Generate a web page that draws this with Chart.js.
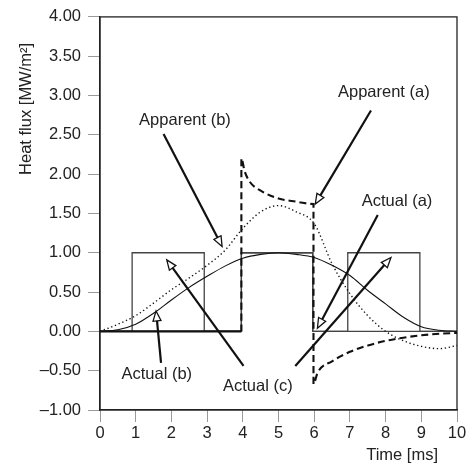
<!DOCTYPE html>
<html><head><meta charset="utf-8">
<script src="https://cdn.jsdelivr.net/npm/chart.js@4/dist/chart.umd.min.js"></script>
<style>html,body{margin:0;padding:0;background:#fff;}</style>
</head><body>
<canvas id="c" width="471" height="466"></canvas>
<script>
// ---- data (time in ms, heat flux in MW/m^2) ----
const xTickValues = [0,1,2,3,4,5,6,7,8,9,10];
const yTickValues = [-1,-0.5,0,0.5,1,1.5,2,2.5,3,3.5,4];

const actualA_t = [0, 3.96, 3.96, 5.96, 5.96, 10];
const actualA_q = [0, 0, 1, 1, 0, 0];

const actualC_t = [0, 0.9, 0.9, 2.92, 2.92, 3.96, 3.96, 5.96, 5.96, 6.94, 6.94, 8.96, 8.96, 10];
const actualC_q = [0, 0, 1, 1, 0, 0, 1, 1, 0, 0, 1, 1, 0, 0];

const actualB_t = [0,0.5,1,1.5,2,2.5,3,3.5,4,4.5,5,5.5,6,6.5,7,7.5,8,8.5,9,9.5,10];
const actualB_q = [0,0.02,0.09,0.23,0.40,0.56,0.70,0.83,0.93,0.98,1.00,0.98,0.94,0.84,0.71,0.52,0.35,0.18,0.06,0.015,0];

const apparentB_t = [0,0.5,1,1.5,2,2.5,3,3.5,4,4.5,5,5.5,6,6.5,7,7.5,8,8.5,9,9.5,10];
const apparentB_q = [0,0.09,0.20,0.36,0.53,0.68,0.84,1.03,1.31,1.52,1.60,1.52,1.37,0.86,0.48,0.20,0.0,-0.12,-0.19,-0.22,-0.18];

const apparentA_t = [0,3.96,3.96,4.05,4.2,4.5,5,5.5,5.98,5.98,6.1,6.5,7,7.5,8,8.5,9,9.5,10];
const apparentA_q = [0,0,2.2,2.04,1.9,1.79,1.69,1.65,1.62,-0.67,-0.52,-0.38,-0.26,-0.18,-0.12,-0.08,-0.05,-0.03,-0.02];

// annotation labels and arrows (data coordinates)
const labelText = ['Apparent (b)', 'Apparent (a)', 'Actual (a)', 'Actual (b)', 'Actual (c)'];
const labelX    = [2.38, 7.95, 8.32, 1.59, 4.42];
const labelY    = [2.68, 3.04, 1.65, -0.55, -0.70];
const arrowFrom = [[1.78,2.51],[7.59,2.81],[7.78,1.48],[1.71,-0.40],[4.02,-0.44],[5.47,-0.44]];
const arrowTo   = [[3.42,1.08],[6.03,1.62],[6.09,0.04],[1.57,0.26],[1.87,0.91],[8.15,0.94]];

const pts = (t, q) => t.map((v, i) => ({x: v, y: q[i]}));

const FONT = '"Liberation Sans", Arial, Helvetica, sans-serif';
Chart.defaults.font.family = FONT;
Chart.defaults.font.size = 16.5;
Chart.defaults.color = '#222';

const annot = {
  id: 'annot',
  beforeDatasetsDraw(chart) {
    const {ctx, chartArea: a} = chart;
    ctx.save();
    ctx.strokeStyle = '#222';
    ctx.lineWidth = 1.3;
    ctx.strokeRect(a.left, a.top, a.right - a.left, a.bottom - a.top);
    ctx.restore();
  },
  afterDatasetsDraw(chart) {
    const {ctx, chartArea: a, scales: {x, y}} = chart;
    ctx.save();
    // arrows
    for (let i = 0; i < arrowFrom.length; i++) {
      const x0 = x.getPixelForValue(arrowFrom[i][0]), y0 = y.getPixelForValue(arrowFrom[i][1]);
      const x1 = x.getPixelForValue(arrowTo[i][0]), y1 = y.getPixelForValue(arrowTo[i][1]);
      const dx = x1 - x0, dy = y1 - y0, L = Math.hypot(dx, dy);
      const ux = dx / L, uy = dy / L, px = -uy, py = ux;
      const hl = 10, hw = 4;
      const bx = x1 - ux * hl, by = y1 - uy * hl;
      ctx.beginPath();
      ctx.moveTo(x0, y0); ctx.lineTo(bx, by);
      ctx.strokeStyle = '#111'; ctx.lineWidth = 2.2; ctx.setLineDash([]);
      ctx.stroke();
      ctx.beginPath();
      ctx.moveTo(x1, y1);
      ctx.lineTo(bx + px * hw, by + py * hw);
      ctx.lineTo(bx - px * hw, by - py * hw);
      ctx.closePath();
      ctx.fillStyle = '#fff'; ctx.fill();
      ctx.lineWidth = 1.3; ctx.stroke();
    }
    // labels
    ctx.font = '16.5px ' + FONT;
    ctx.fillStyle = '#222';
    ctx.textAlign = 'center';
    ctx.textBaseline = 'middle';
    for (let i = 0; i < labelText.length; i++) {
      ctx.fillText(labelText[i], x.getPixelForValue(labelX[i]), y.getPixelForValue(labelY[i]));
    }
    // axis titles
    ctx.save();
    ctx.translate(a.left - 74, a.top + 92);
    ctx.rotate(-Math.PI / 2);
    ctx.fillText('Heat flux [MW/m\u00B2]', 0, 0);
    ctx.restore();
    ctx.textAlign = 'right';
    ctx.fillText('Time [ms]', a.right - 19, a.bottom + 45);
    ctx.restore();
  }
};

new Chart(document.getElementById('c'), {
  type: 'line',
  data: {
    datasets: [
      { label: 'Apparent (a)', data: pts(apparentA_t, apparentA_q), borderColor: '#111', borderWidth: 2.1,
        borderDash: [7, 4], cubicInterpolationMode: 'monotone', pointRadius: 0, fill: false,
        segment: { borderDash: c => (c.p0.parsed.y === 0 && c.p1.parsed.y === 0) ? [] : [7, 4] } },
      { label: 'Apparent (b)', data: pts(apparentB_t, apparentB_q), borderColor: '#111', borderWidth: 1.4,
        borderDash: [1.3, 2.7], cubicInterpolationMode: 'monotone', pointRadius: 0, fill: false },
      { label: 'Actual (b)', data: pts(actualB_t, actualB_q), borderColor: '#111', borderWidth: 1.1,
        cubicInterpolationMode: 'monotone', pointRadius: 0, fill: false },
      { label: 'Actual (a)', data: pts(actualA_t, actualA_q), borderColor: '#444', borderWidth: 1.3,
        tension: 0, pointRadius: 0, fill: false },
      { label: 'Actual (c)', data: pts(actualC_t, actualC_q), borderColor: '#444', borderWidth: 1.3,
        tension: 0, pointRadius: 0, fill: false }
    ]
  },
  options: {
    responsive: false,
    animation: false,
    devicePixelRatio: 1,
    layout: { padding: { top: 14, right: 14, left: 0, bottom: 0 } },
    plugins: { legend: { display: false }, tooltip: { enabled: false } },
    scales: {
      x: {
        type: 'linear', min: 0, max: 10,
        afterFit: s => { s.height = 56; },
        afterBuildTicks: s => { s.ticks = xTickValues.map(v => ({value: v})); },
        ticks: { padding: 2, color: '#222', callback: v => String(v), maxRotation: 0 },
        grid: { drawOnChartArea: false, drawTicks: true, tickLength: 12, color: '#999', lineWidth: 1 },
        border: { display: true, color: '#222', width: 1.3 }
      },
      y: {
        type: 'linear', min: -1, max: 4,
        afterFit: s => { s.width = 100; },
        afterBuildTicks: s => { s.ticks = yTickValues.map(v => ({value: v})); },
        ticks: { padding: 7, color: '#222', callback: v => (v < 0 ? '\u2013' : '') + Math.abs(v).toFixed(2) },
        grid: { drawOnChartArea: false, drawTicks: true, tickLength: 12, color: '#999', lineWidth: 1 },
        border: { display: true, color: '#222', width: 1.3 }
      }
    }
  },
  plugins: [annot]
});
</script>
</body></html>
